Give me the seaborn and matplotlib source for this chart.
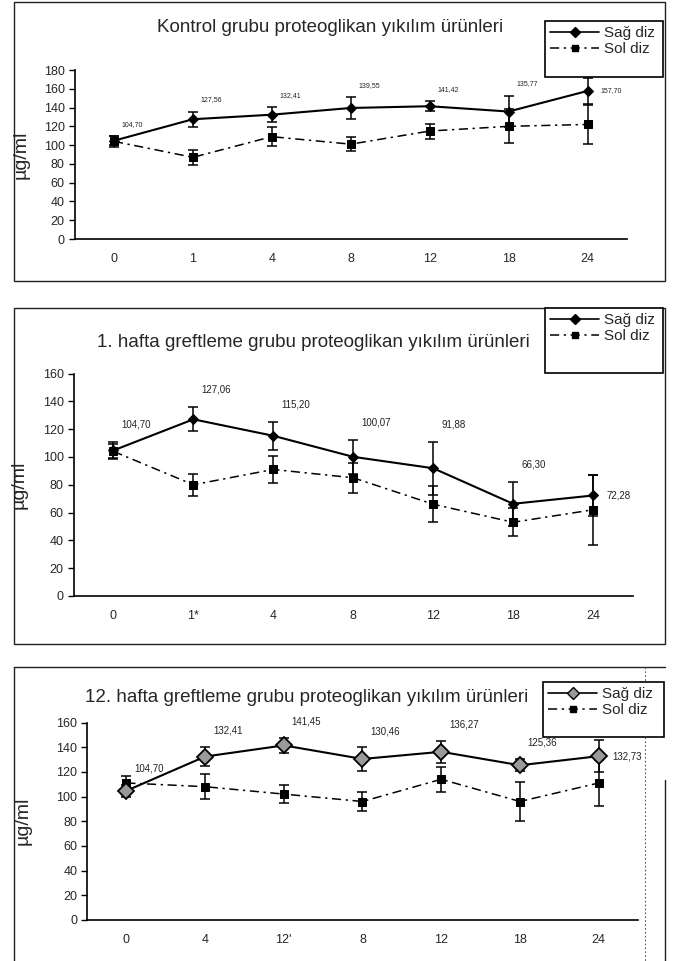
import numpy as np, pandas as pd, matplotlib
matplotlib.use('Agg')
import matplotlib.pyplot as plt
import matplotlib.patches as mpatches
from matplotlib.lines import Line2D
import seaborn as sns

sns.set_style('white')
plt.rcParams['font.family'] = ['Liberation Sans', 'DejaVu Sans']

W, H = 674, 961

# ── data ────────────────────────────────────────────────────────
title_1 = 'Kontrol grubu proteoglikan yıkılım ürünleri'
weeks_1 = ['0', '1', '4', '8', '12', '18', '24']
sag_1 = [104.70, 127.56, 132.41, 139.55, 141.42, 135.77, 157.70]
sag_err_1 = [5, 8, 8, 11.5, 5.5, 17, 14]
sol_1 = [104, 87, 109, 101, 115, 120, 122]
sol_err_1 = [6, 8, 10, 7.5, 8, 18, 21]

title_2 = '1. hafta greftleme grubu proteoglikan yıkılım ürünleri'
weeks_2 = ['0', '1*', '4', '8', '12', '18', '24']
sag_2 = [104.70, 127.06, 115.20, 100.07, 91.88, 66.30, 72.28]
sag_err_2 = [6, 8.5, 10, 12, 19, 16, 15]
sol_2 = [104, 80, 91, 85, 66, 53, 62]
sol_err_2 = [5, 8, 10, 11, 13, 10, 25]

title_3 = '12. hafta greftleme grubu proteoglikan yıkılım ürünleri'
weeks_3 = ['0', '4', "12'", '8', '12', '18', '24']
sag_3 = [104.70, 132.41, 141.45, 130.46, 136.27, 125.36, 132.73]
sag_err_3 = [5, 8, 6, 9.5, 9, 5, 13]
sol_3 = [111, 108, 102, 96, 114, 96, 111]
sol_err_3 = [6, 10, 7.5, 8, 10, 15.5, 19]

SOL_DASH = (0, (6, 3, 1.5, 3))


def fx(px):
    return px / W


def fy(py):
    return 1 - py / H


def vline(fig, x, y0, y1, **kw):
    fig.add_artist(Line2D([fx(x), fx(x)], [fy(y0), fy(y1)],
                          transform=fig.transFigure, **kw))


def hline(fig, y, x0, x1, **kw):
    fig.add_artist(Line2D([fx(x0), fx(x1)], [fy(y), fy(y)],
                          transform=fig.transFigure, **kw))


def panel(fig, ax_box, title, title_xy, weeks, sag, sag_err,
          sol, sol_err, ymax, leg_box, lbl_fs, big_diamond=False, ylab_x=30):
    l, r, t, b = ax_box
    ax = fig.add_axes([fx(l), fy(b), fx(r - l), (b - t) / H])
    pos = np.arange(len(weeks))
    df = pd.DataFrame({'pos': pos, 'sag': sag, 'sol': sol})

    ax.errorbar(pos, sol, yerr=sol_err, fmt='none', ecolor='black',
                elinewidth=1.1, capsize=3.5, capthick=1.1, zorder=2)
    ax.errorbar(pos, sag, yerr=sag_err, fmt='none', ecolor='black',
                elinewidth=1.1, capsize=3.5, capthick=1.1, zorder=2)
    sns.lineplot(data=df, x='pos', y='sol', ax=ax, color='black', lw=1.1,
                 linestyle=SOL_DASH, marker='s', markersize=5.5,
                 markeredgecolor='black', estimator=None, sort=False, zorder=3)
    if big_diamond:
        sns.lineplot(data=df, x='pos', y='sag', ax=ax, color='black', lw=1.5,
                     marker='D', markersize=8, markerfacecolor='#9a9a9a',
                     markeredgecolor='black', markeredgewidth=1.3,
                     estimator=None, sort=False, zorder=4)
    else:
        sns.lineplot(data=df, x='pos', y='sag', ax=ax, color='black', lw=1.5,
                     marker='D', markersize=5.5, markeredgecolor='black',
                     estimator=None, sort=False, zorder=4)

    # value labels of Sağ diz
    for i, (v, e) in enumerate(zip(sag, sag_err)):
        txt = f'{v:.2f}'.replace('.', ',')
        if i == len(sag) - 1:
            ax.text(i + 0.17, v, txt, fontsize=lbl_fs, va='center', ha='left', color='#222')
        else:
            ax.text(i + 0.1, v + e + 9, txt, fontsize=lbl_fs, va='bottom', ha='left', color='#222')

    ax.set_xlim(-0.5, len(weeks) - 0.5)
    ax.set_ylim(0, ymax)
    ax.set_yticks(np.arange(0, ymax + 1, 20))
    ax.set_xticks(pos)
    ax.set_xticklabels(weeks)
    ax.set_xticks(np.arange(-0.5, len(weeks), 1), minor=True)
    ax.tick_params(axis='x', which='major', length=0, pad=10, labelsize=9)
    ax.tick_params(axis='x', which='minor', length=4, width=1, direction='out', color='black')
    ax.tick_params(axis='y', length=4, width=1, direction='out', color='black',
                   labelsize=9, pad=3, left=True)
    for s in ['top', 'right']:
        ax.spines[s].set_visible(False)
    for s in ['left', 'bottom']:
        ax.spines[s].set_color('black')
        ax.spines[s].set_linewidth(1.2)
    ax.set_xlabel('')
    ax.set_ylabel('µg/ml', fontsize=14)
    ax.yaxis.set_label_coords((ylab_x - l) / (r - l), 0.5)
    ax.set_facecolor('none')

    fig.text(fx(title_xy[0]), fy(title_xy[1]), title, fontsize=13.5,
             ha='center', va='center')

    # legend with its own frame
    lx0, ly0, lx1, ly1 = leg_box
    fig.patches.append(mpatches.Rectangle((fx(lx0), fy(ly1)), fx(lx1 - lx0), (ly1 - ly0) / H,
                                          transform=fig.transFigure, facecolor='white',
                                          edgecolor='black', lw=1.2, zorder=5))
    if big_diamond:
        h1 = Line2D([], [], color='black', lw=1.2, marker='D', markersize=6,
                    markerfacecolor='#9a9a9a', markeredgecolor='black')
    else:
        h1 = Line2D([], [], color='black', lw=1.2, marker='D', markersize=5)
    h2 = Line2D([], [], color='black', lw=1.1, linestyle=SOL_DASH, marker='s', markersize=4.5)
    leg = fig.legend([h1, h2], ['Sağ diz', 'Sol diz'], loc='upper left',
                     bbox_to_anchor=(fx(lx0 + 2), fy(ly0 + 2)), frameon=False,
                     fontsize=11, handlelength=3.2, handletextpad=0.3,
                     labelspacing=0.15, borderaxespad=0, borderpad=0.2)
    leg.set_zorder(6)
    return ax


fig = plt.figure(figsize=(W / 100, H / 100), dpi=100)

# panel frames
frame = dict(color='#222', lw=1.0)
for (y0, y1) in [(2, 281), (308, 644)]:
    fig.patches.append(mpatches.Rectangle((fx(14), fy(y1)), fx(665 - 14), (y1 - y0) / H,
                                          transform=fig.transFigure, fill=False,
                                          edgecolor='#222', lw=1.0))
hline(fig, 667, 14, 665, **frame)
vline(fig, 14, 667, 961, **frame)
vline(fig, 665, 780, 961, **frame)
vline(fig, 645, 667, 961, color='#555', lw=0.8, linestyle=(0, (1.5, 2)))

panel(fig, (74.5, 627, 70, 239), title_1, (330, 28),
      weeks_1, sag_1, sag_err_1, sol_1, sol_err_1, 180, (545, 21, 663, 77), 5,
      ylab_x=30)

panel(fig, (73.5, 633, 373.5, 596), title_2, (313, 342),
      weeks_2, sag_2, sag_err_2, sol_2, sol_err_2, 160, (545, 308, 663, 373), 7,
      ylab_x=28)

panel(fig, (87, 638, 722.5, 920), title_3, (307, 697),
      weeks_3, sag_3, sag_err_3, sol_3, sol_err_3, 160, (543, 682, 664, 737), 7,
      big_diamond=True, ylab_x=32)

plt.savefig('out.png', dpi=100)
plt.close()
